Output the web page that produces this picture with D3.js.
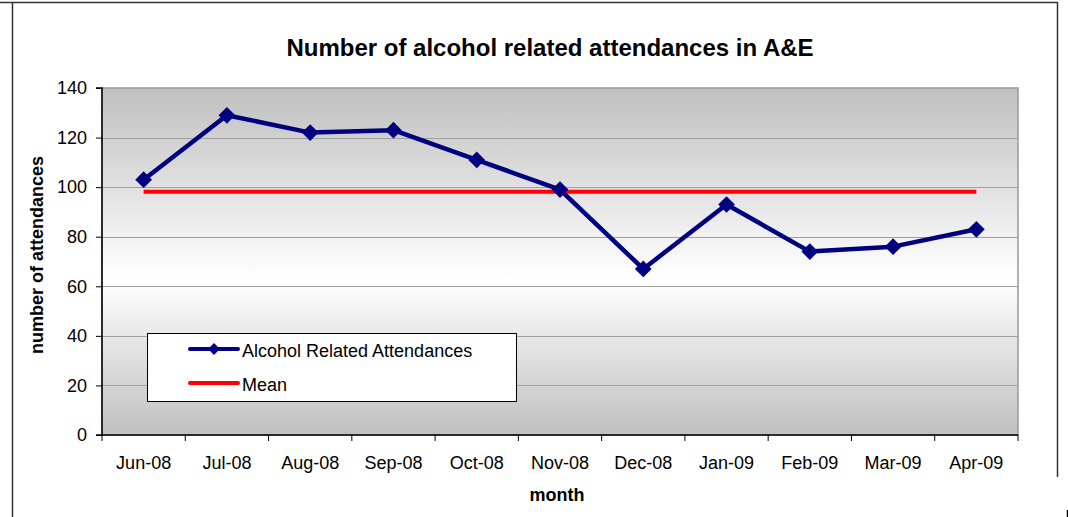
<!DOCTYPE html>
<html><head><meta charset="utf-8">
<script src="https://cdn.jsdelivr.net/npm/d3@7"></script>
<style>body{margin:0;background:#fff}svg{display:block}text{font-family:"Liberation Sans",Arial,sans-serif}</style>
</head><body>
<script>
const categories = ["Jun-08","Jul-08","Aug-08","Sep-08","Oct-08","Nov-08","Dec-08","Jan-09","Feb-09","Mar-09","Apr-09"];
const attendances = [103,129,122,123,111,99,67,93,74,76,83];
const meanValue = d3.mean(attendances);
const meanSeries = categories.map(() => meanValue);
const yTicks = [0,20,40,60,80,100,120,140];
const legendLabels = ["Alcohol Related Attendances","Mean"];

const W = 1068, H = 517;
const svg = d3.select("body").append("svg").attr("width", W).attr("height", H);
const m = {left:102, right:1018, top:88, bottom:435};

// frame
svg.append("path").attr("d","M0,2.5 H1057.5 V477").attr("fill","none").attr("stroke","#333").attr("stroke-width",1.5);
svg.append("line").attr("x1",12.5).attr("x2",12.5).attr("y1",2).attr("y2",517).attr("stroke","#333").attr("stroke-width",1.5);
svg.append("line").attr("x1",1067.5).attr("x2",1067.5).attr("y1",510).attr("y2",517).attr("stroke","#000").attr("stroke-width",1.5);

const defs = svg.append("defs");
const g = defs.append("linearGradient").attr("id","bg").attr("x1",0).attr("x2",0).attr("y1",0).attr("y2",1);
g.append("stop").attr("offset","0%").attr("stop-color","#c0c0c0");
g.append("stop").attr("offset","55%").attr("stop-color","#ffffff");
g.append("stop").attr("offset","100%").attr("stop-color","#c0c0c0");

const x = d3.scaleBand().domain(categories).range([m.left, m.right]);
const y = d3.scaleLinear().domain([0,140]).range([m.bottom, m.top]);

svg.append("rect").attr("x",m.left).attr("y",m.top).attr("width",m.right-m.left).attr("height",m.bottom-m.top)
  .attr("fill","url(#bg)").attr("stroke","#999").attr("stroke-width",1.5);

svg.append("g").selectAll("line").data(yTicks.slice(1,-1)).join("line")
  .attr("x1",m.left).attr("x2",m.right).attr("y1",d=>Math.round(y(d))+0.5).attr("y2",d=>Math.round(y(d))+0.5)
  .attr("stroke","#a0a0a0").attr("stroke-width",1);

// axes
const yAxis = svg.append("g").attr("transform",`translate(${m.left},0)`)
  .call(d3.axisLeft(y).tickValues(yTicks).tickSize(6).tickPadding(9));
const xAxis = svg.append("g").attr("transform",`translate(0,${m.bottom})`)
  .call(d3.axisBottom(x).tickSize(0).tickPadding(20));
xAxis.selectAll("line.b").data(d3.range(categories.length+1)).join("line").attr("class","b")
  .attr("x1",i=>m.left+i*x.step()).attr("x2",i=>m.left+i*x.step()).attr("y1",0).attr("y2",6).attr("stroke","#000");
[yAxis,xAxis].forEach(a=>{
  a.select(".domain").attr("stroke","#000").attr("stroke-width",1.5);
  a.selectAll("text").attr("font-size",18).attr("fill","#000").attr("font-family","Liberation Sans, Arial, sans-serif");
});
yAxis.select(".domain").attr("d",`M-6,${m.top}H0V${m.bottom}H-6`);
xAxis.select(".domain").attr("d",`M${m.left},0H${m.right}`);
yAxis.selectAll(".tick line").attr("stroke","#000");
xAxis.selectAll(".tick text").attr("dy",null).attr("y",34);

// mean line
const line = d3.line().x((d,i)=>x(categories[i])+x.bandwidth()/2).y(d=>y(d));
svg.append("path").datum(meanSeries).attr("d",line).attr("fill","none").attr("stroke","#ff0000").attr("stroke-width",4);
// series
svg.append("path").datum(attendances).attr("d",line).attr("fill","none").attr("stroke","#000080").attr("stroke-width",4.5).attr("stroke-linejoin","round");
svg.append("g").selectAll("path").data(attendances).join("path")
  .attr("d",d3.symbol().type(d3.symbolSquare).size(140))
  .attr("transform",(d,i)=>`translate(${x(categories[i])+x.bandwidth()/2},${y(d)}) rotate(45)`)
  .attr("fill","#000080");

// titles
svg.append("text").attr("x",550).attr("y",56).attr("text-anchor","middle").attr("font-size",24).attr("font-weight","bold").text("Number of alcohol related attendances in A&E");
svg.append("text").attr("x",557).attr("y",501).attr("text-anchor","middle").attr("font-size",18).attr("font-weight","bold").text("month");
svg.append("text").attr("transform","translate(43,255) rotate(-90)").attr("text-anchor","middle").attr("font-size",18).attr("font-weight","bold").text("number of attendances");

// legend
const lg = svg.append("g");
lg.append("rect").attr("x",147.5).attr("y",333.5).attr("width",369).attr("height",68).attr("fill","#fff").attr("stroke","#000").attr("stroke-width",1);
const ly = [349,383];
lg.append("line").attr("x1",190).attr("x2",238).attr("y1",ly[0]).attr("y2",ly[0]).attr("stroke","#000080").attr("stroke-width",4).attr("stroke-linecap","round");
lg.append("path").attr("d",d3.symbol().type(d3.symbolSquare).size(70)).attr("transform",`translate(214,${ly[0]}) rotate(45)`).attr("fill","#000080");
lg.append("line").attr("x1",190).attr("x2",238).attr("y1",ly[1]).attr("y2",ly[1]).attr("stroke","#ff0000").attr("stroke-width",4).attr("stroke-linecap","round");
legendLabels.forEach((t,i)=>lg.append("text").attr("x",242).attr("y",ly[i]+8).attr("font-size",18).text(t));
</script>
</body></html>
